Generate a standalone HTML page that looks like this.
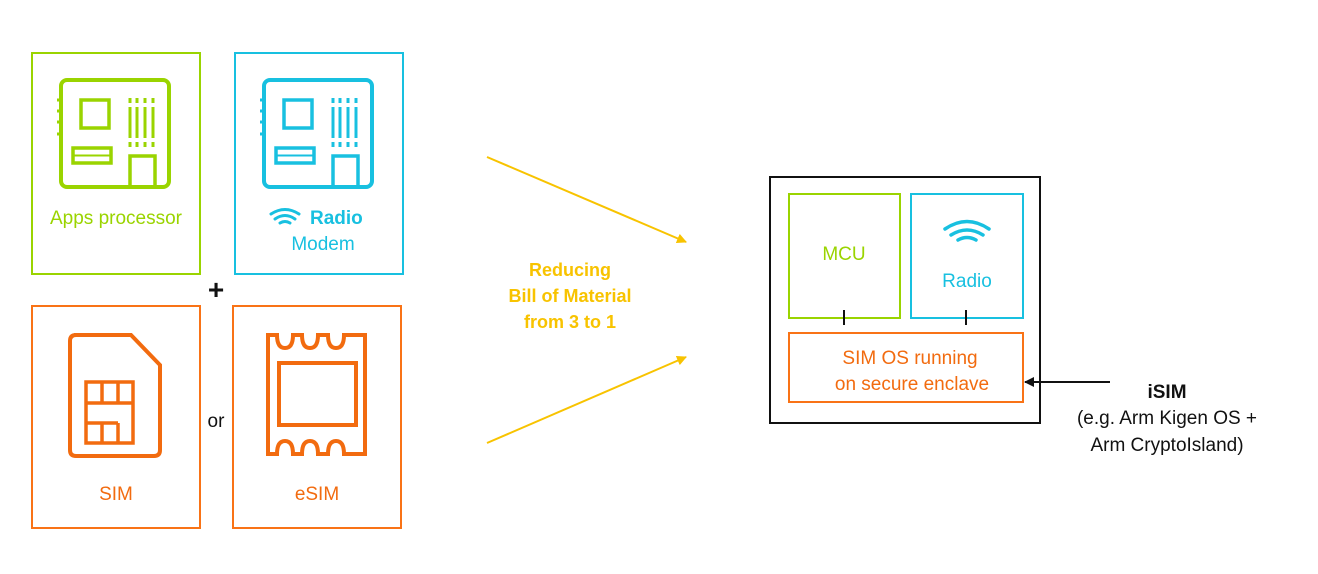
<!DOCTYPE html>
<html><head><meta charset="utf-8"><style>
html,body{margin:0;padding:0;background:#fff;}
svg{display:block;font-family:"Liberation Sans",sans-serif;}
</style></head><body>
<svg width="1318" height="574" viewBox="0 0 1318 574" xmlns="http://www.w3.org/2000/svg">
<defs>
<g id="chip" fill="none" stroke-width="4">
  <rect x="61" y="80" width="108" height="107" rx="6"/>
  <rect x="81" y="100" width="28" height="28" stroke-width="3.5"/>
  <rect x="73" y="148" width="38" height="15" stroke-width="3.5"/>
  <line x1="73" y1="155.5" x2="111" y2="155.5" stroke-width="2"/>
  <rect x="130" y="156" width="25" height="31" stroke-width="3.5"/>
  <g stroke-width="3">
    <line x1="130" y1="98" x2="130" y2="103"/><line x1="137" y1="98" x2="137" y2="103"/><line x1="145" y1="98" x2="145" y2="103"/><line x1="153" y1="98" x2="153" y2="103"/>
    <line x1="130" y1="107" x2="130" y2="138"/><line x1="137" y1="107" x2="137" y2="138"/><line x1="145" y1="107" x2="145" y2="138"/><line x1="153" y1="107" x2="153" y2="138"/>
    <line x1="130" y1="142" x2="130" y2="147"/><line x1="137" y1="142" x2="137" y2="147"/><line x1="145" y1="142" x2="145" y2="147"/><line x1="153" y1="142" x2="153" y2="147"/>
    <line x1="57" y1="100" x2="63" y2="100"/><line x1="57" y1="111" x2="63" y2="111"/><line x1="57" y1="122" x2="63" y2="122"/><line x1="57" y1="134" x2="63" y2="134"/>
  </g>
</g>
<marker id="ay" markerWidth="10" markerHeight="10" refX="9" refY="5" orient="auto" markerUnits="userSpaceOnUse"><path d="M0,0 L10,5 L0,10 z" fill="#f8c300"/></marker>
<marker id="ak" markerWidth="10" markerHeight="10" refX="9" refY="5" orient="auto" markerUnits="userSpaceOnUse"><path d="M0,0 L10,5 L0,10 z" fill="#111"/></marker>
</defs>

<!-- Green box -->
<rect x="32" y="53" width="168" height="221" fill="none" stroke="#9ad400" stroke-width="2"/>
<use href="#chip" stroke="#9ad400"/>
<text x="116" y="224" font-size="19" fill="#9ad400" text-anchor="middle">Apps processor</text>

<!-- Blue box -->
<rect x="235" y="53" width="168" height="221" fill="none" stroke="#18c0e0" stroke-width="2"/>
<use href="#chip" stroke="#18c0e0" transform="translate(203,0)"/>
<g fill="none" stroke="#18c0e0" stroke-width="3" stroke-linecap="round">
  <path d="M271,214 Q285,205 299,214"/><path d="M275,219 Q285,212 295,219"/><path d="M280,223 Q285,220 290,223"/>
</g>
<text x="310" y="224" font-size="19" font-weight="bold" fill="#18c0e0">Radio</text>
<text x="323" y="250" font-size="19" fill="#18c0e0" text-anchor="middle">Modem</text>

<!-- plus -->
<text x="216" y="299" font-size="28" font-weight="bold" fill="#111" text-anchor="middle">+</text>

<!-- SIM box -->
<rect x="32" y="306" width="168" height="222" fill="none" stroke="#f97316" stroke-width="2"/>
<g fill="none" stroke="#f26b0f" stroke-width="4">
  <path d="M74,335 H131 L160,365 V450 Q160,456 154,456 H76 Q70,456 70,450 V341 Q70,335 76,335 Z"/>
  <rect x="86" y="382" width="47" height="61" stroke-width="3.5"/>
  <g stroke-width="3.5">
    <line x1="86" y1="403" x2="133" y2="403"/>
    <line x1="86" y1="423" x2="118" y2="423"/>
    <line x1="118" y1="423" x2="118" y2="443"/>
    <line x1="102" y1="382" x2="102" y2="403"/><line x1="118" y1="382" x2="118" y2="403"/>
    <line x1="102" y1="423" x2="102" y2="443"/>
  </g>
</g>
<text x="116" y="500" font-size="19" fill="#f26b0f" text-anchor="middle">SIM</text>

<text x="216" y="427" font-size="19" fill="#111" text-anchor="middle">or</text>

<!-- eSIM box -->
<rect x="233" y="306" width="168" height="222" fill="none" stroke="#f97316" stroke-width="2"/>
<g fill="none" stroke="#f26b0f" stroke-width="4">
  <path d="M268,335 H277 Q277,348 285,348 Q293,348 293,335 H302 Q302,348 310,348 Q318,348 318,335 H328 Q328,348 336,348 Q344,348 344,335 H365 V454 H344 Q344,441 336,441 Q328,441 328,454 H318 Q318,441 310,441 Q302,441 302,454 H293 Q293,441 285,441 Q277,441 277,454 H268 Z"/>
  <rect x="279" y="363" width="77" height="62"/>
</g>
<text x="317" y="500" font-size="19" fill="#f26b0f" text-anchor="middle">eSIM</text>

<!-- yellow arrows -->
<line x1="487" y1="157" x2="686" y2="242" stroke="#f8c300" stroke-width="2" marker-end="url(#ay)"/>
<line x1="487" y1="443" x2="686" y2="357" stroke="#f8c300" stroke-width="2" marker-end="url(#ay)"/>
<g font-size="18" font-weight="bold" fill="#f8c300" text-anchor="middle">
  <text x="570" y="276">Reducing</text>
  <text x="570" y="302">Bill of Material</text>
  <text x="570" y="328">from 3 to 1</text>
</g>

<!-- right diagram -->
<rect x="770" y="177" width="270" height="246" fill="none" stroke="#111" stroke-width="2"/>
<rect x="789" y="194" width="111" height="124" fill="none" stroke="#9ad400" stroke-width="2"/>
<text x="844" y="260" font-size="19" fill="#9ad400" text-anchor="middle">MCU</text>
<rect x="911" y="194" width="112" height="124" fill="none" stroke="#18c0e0" stroke-width="2"/>
<g fill="none" stroke="#18c0e0" stroke-width="3.5" stroke-linecap="round">
  <path d="M945,229 Q967,214 989,229"/><path d="M951,235 Q967,225 983,235"/><path d="M958,240 Q967,235 976,240"/>
</g>
<text x="967" y="287" font-size="19" fill="#18c0e0" text-anchor="middle">Radio</text>
<rect x="789" y="333" width="234" height="69" fill="none" stroke="#f97316" stroke-width="2"/>
<g font-size="19" fill="#f26b0f" text-anchor="middle">
  <text x="910" y="364">SIM OS running</text>
  <text x="912" y="390">on secure enclave</text>
</g>
<line x1="844" y1="310" x2="844" y2="325" stroke="#111" stroke-width="2"/>
<line x1="966" y1="310" x2="966" y2="325" stroke="#111" stroke-width="2"/>
<line x1="1110" y1="382" x2="1025" y2="382" stroke="#111" stroke-width="2" marker-end="url(#ak)"/>
<text x="1167" y="398" font-size="19" font-weight="bold" fill="#111" text-anchor="middle">iSIM</text>
<text x="1167" y="424" font-size="19" fill="#111" text-anchor="middle">(e.g. Arm Kigen OS +</text>
<text x="1167" y="451" font-size="19" fill="#111" text-anchor="middle">Arm CryptoIsland)</text>
</svg>
</body></html>
